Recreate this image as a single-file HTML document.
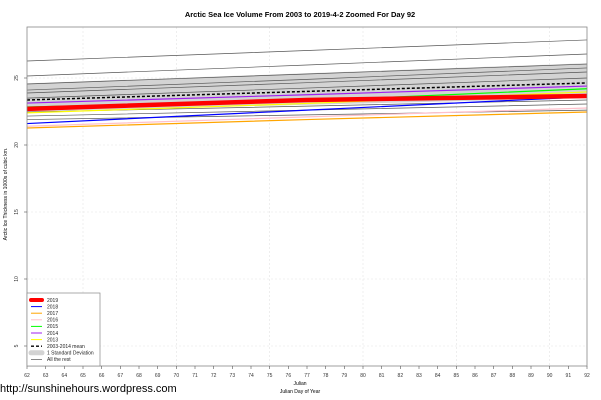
<!DOCTYPE html>
<html><head><meta charset="utf-8"><style>
body{margin:0;background:#fff;font-family:"Liberation Sans",sans-serif}
svg{display:block}
</style></head><body>
<svg id="chart" width="601" height="400" xmlns="http://www.w3.org/2000/svg">
<text x="300" y="17" text-anchor="middle" font-size="7.5" font-weight="bold">Arctic Sea Ice Volume From 2003 to 2019-4-2 Zoomed For Day 92</text>
<text transform="translate(7,194) rotate(-90)" text-anchor="middle" font-size="5">Arctic Ice Thickness in 1000s of cubic km.</text>
<text x="0" y="392" font-size="11">http://sunshinehours.wordpress.com</text>
<text x="300" y="385" text-anchor="middle" font-size="5">Julian</text>
<text x="300" y="393" text-anchor="middle" font-size="5">Julian Day of Year</text>
<g id="grid"></g><g id="band"></g><g id="lines"></g><g id="axes"></g><g id="legend"></g>
</svg>
<script>
const days=[62,77,92];
const restSeries=[[26.27,27.05,27.84],[25.15,25.97,26.79],[24.55,25.3,26.04],[24.1,24.9,25.75],[23.88,24.65,25.45],[23.5,24.25,25.0],[22.46,22.9,23.36],[22.16,22.6,23.06],[21.9,22.25,22.6]];
const bandUpper=[24.6,25.35,26.1];
const bandLower=[22.5,23.0,23.5];
const meanVals=[23.36,24.0,24.63];
const y2014=[23.13,23.75,24.4];
const y2015=[22.84,23.3,24.2];
const y2013=[22.4,23.1,23.96];
const y2018=[21.6,22.6,23.6];
const y2016=[21.4,22.1,22.76];
const y2017=[21.27,21.9,22.46];
const y2019=[22.7,23.36,23.66];
const xTicks=[62,63,64,65,66,67,68,69,70,71,72,73,74,75,76,77,78,79,80,81,82,83,84,85,86,87,88,89,90,91,92];
const yTicks=[5,10,15,20,25];
const NS="http://www.w3.org/2000/svg";
const X0=27,X1=587,Y0=27,Y1=366;
const xs=d=>X0+(d-62)*(X1-X0)/30;
const ys=v=>78+(25-v)*13.4;
function mk(p,t,a){const e=document.createElementNS(NS,t);for(const k in a)e.setAttribute(k,a[k]);document.getElementById(p).appendChild(e);return e;}
function pts(v){return v.map((y,i)=>xs(days[i])+','+ys(y)).join(' ');}
for(const d of [65,70,75,80,85,90]){const g=mk('grid','line',{x1:xs(d),x2:xs(d),y1:Y0,y2:Y1,stroke:'#e4e4e4','stroke-width':0.6,'stroke-dasharray':'2,2'});

}
for(const v of yTicks){const g=mk('grid','line',{x1:X0,x2:X1,y1:ys(v),y2:ys(v),stroke:'#e4e4e4','stroke-width':0.6,'stroke-dasharray':'2,2'});

}
const bp=days.map((d,i)=>xs(d)+','+ys(bandUpper[i])).concat(days.map((d,i)=>xs(d)+','+ys(bandLower[i])).reverse()).join(' ');
const band=mk('band','polygon',{points:bp,fill:'#d3d3d3'});


for(const s of restSeries){const l=mk('lines','polyline',{points:pts(s),fill:'none',stroke:'#555','stroke-width':0.7});

}
const named=[['line-2017',y2017,'#ffa500',1.2],['line-2016',y2016,'#ffc0cb',1.2],['line-2018',y2018,'#0000ff',1.2],['line-2013',y2013,'#ffff00',1.2],['line-2015',y2015,'#00ff00',1.2],['line-2019',y2019,'#ff0000',4.5],['line-2014',y2014,'#a020f0',1.2]];
for(const [n,s,c,w] of named){const l=mk('lines','polyline',{points:pts(s),fill:'none',stroke:c,'stroke-width':w});

}
const m=mk('lines','polyline',{points:pts(meanVals),fill:'none',stroke:'#000','stroke-width':1.5,'stroke-dasharray':'3,2'});


const fr=mk('axes','rect',{x:X0,y:Y0,width:X1-X0,height:Y1-Y0,fill:'none',stroke:'#888','stroke-width':0.8});


for(const d of xTicks){mk('axes','line',{x1:xs(d),x2:xs(d),y1:Y1,y2:Y1+3,stroke:'#555','stroke-width':0.6});
const t=mk('axes','text',{x:xs(d),y:Y1+11,'text-anchor':'middle','font-size':5,fill:'#333'});t.textContent=d;

}
for(const v of yTicks){mk('axes','line',{x1:X0-3,x2:X0,y1:ys(v),y2:ys(v),stroke:'#555','stroke-width':0.6});
const t=mk('axes','text',{transform:`translate(${X0-9},${ys(v)}) rotate(-90)`,'text-anchor':'middle','font-size':5,fill:'#333'});t.textContent=v;

}
const lb=mk('legend','rect',{x:X0,y:293,width:73,height:Y1-293,fill:'#fff',stroke:'#888','stroke-width':0.7});


const leg=[['2019','#ff0000',4,''],['2018','#0000ff',1,''],['2017','#ffa500',1,''],['2016','#ffc0cb',1,''],['2015','#00ff00',1,''],['2014','#a020f0',1,''],['2013','#ffff00',1,''],['2003-2014 mean','#000',1.3,'3,2'],['1 Standard Deviation','#d3d3d3',5,''],['All the rest','#555',0.7,'']];
leg.forEach((e,i)=>{const y=300+i*6.6;
const l=mk('legend','line',{x1:31,x2:42,y1:y,y2:y,stroke:e[1],'stroke-width':e[2],'stroke-dasharray':e[3],'stroke-linecap':i==0||i==8?'round':'butt'});
const t=mk('legend','text',{x:47,y:y+1.8,'font-size':5,fill:'#222'});t.textContent=e[0];

});
</script>
</body></html>
